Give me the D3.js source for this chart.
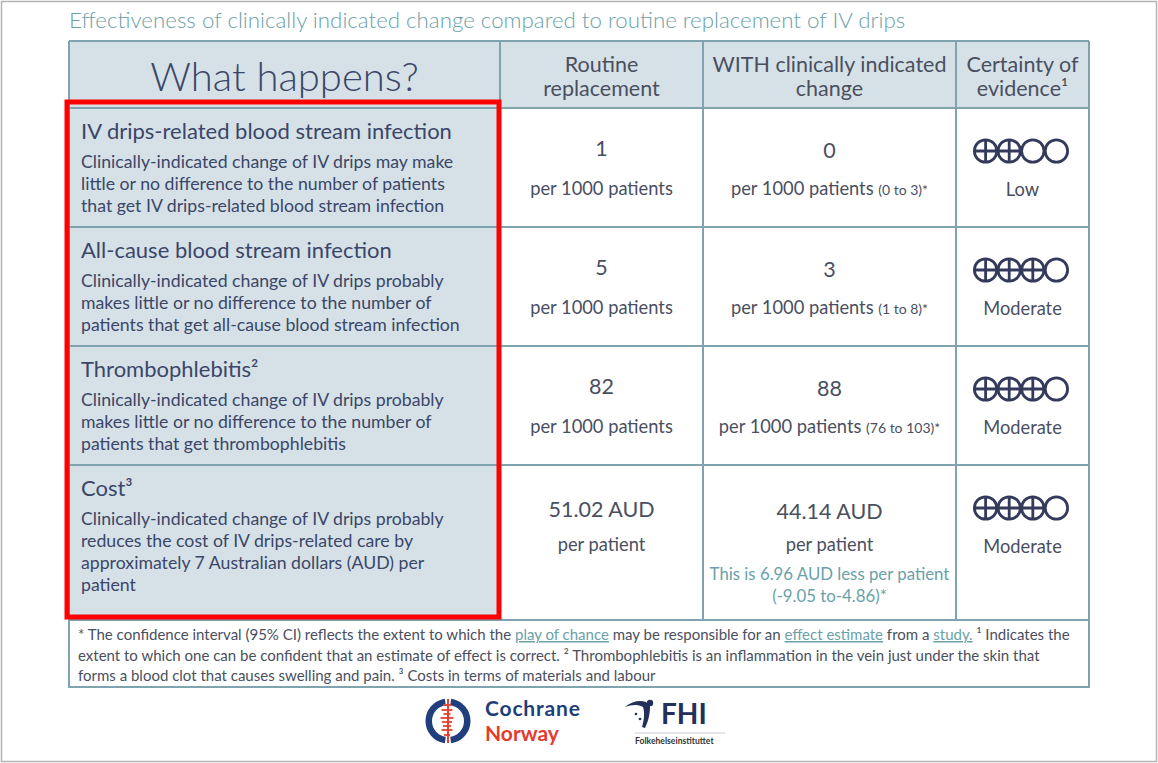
<!DOCTYPE html>
<html>
<head>
<meta charset="utf-8">
<script src="https://cdn.jsdelivr.net/npm/d3@7"></script>
<style>
  body { margin: 0; background: #fff; }
  text { font-family: Lato, "Open Sans", sans-serif; }
</style>
</head>
<body>
<div class="canvas"></div>
<script>
// data
const title = "Effectiveness of clinically indicated change compared to routine replacement of IV drips";
const headers = [["What happens?"], ["Routine", "replacement"], ["WITH clinically indicated", "change"], ["Certainty of", "evidence¹"]];
const outcomes = ["IV drips-related blood stream infection", "All-cause blood stream infection", "Thrombophlebitis²", "Cost³"];
const descriptions = [
  ["Clinically-indicated change of IV drips may make", "little or no difference to the number of patients", "that get IV drips-related blood stream infection"],
  ["Clinically-indicated change of IV drips probably", "makes little or no difference to the number of", "patients that get all-cause blood stream infection"],
  ["Clinically-indicated change of IV drips probably", "makes little or no difference to the number of", "patients that get thrombophlebitis"],
  ["Clinically-indicated change of IV drips probably", "reduces the cost of IV drips-related care by", "approximately 7 Australian dollars (AUD) per", "patient"]
];
const routine = ["1", "5", "82", "51.02 AUD"];
const units = ["per 1000 patients", "per 1000 patients", "per 1000 patients", "per patient"];
const withChange = ["0", "3", "88", "44.14 AUD"];
const ranges = ["(0 to 3)*", "(1 to 8)*", "(76 to 103)*", ""];
const costNote = ["This is 6.96 AUD less per patient", "(-9.05 to-4.86)*"];
const certainty = [2, 3, 3, 3];
const certaintyLabels = ["Low", "Moderate", "Moderate", "Moderate"];
const footnotes = [
  [["* The confidence interval (95% CI) reflects the extent to which the ", 0], ["play of chance", 1], [" may be responsible for an ", 0], ["effect estimate", 1], [" from a ", 0], ["study.", 1], [" ¹ Indicates the", 0]],
  [["extent to which one can be confident that an estimate of effect is correct. ² Thrombophlebitis is an inflammation in the vein just under the skin that", 0]],
  [["forms a blood clot that causes swelling and pain. ³ Costs in terms of materials and labour", 0]]
];

// layout
const W = 1158, H = 763;
const colEdges = [69, 500, 703, 956, 1089];
const headTop = 41, headH = 67;
const rowHeights = [119, 119, 119, 155];
const footH = 67;

const navy = "#3b4668", slate = "#4a4f60", teal = "#6aa1aa", border = "#7fa3af", fill = "#d5e1e7";

const rowTops = [headTop + headH, ...d3.cumsum(rowHeights).map(c => headTop + headH + c)];
const tableBottom = rowTops[rowTops.length - 1];

const colX = d3.scaleOrdinal().domain(d3.range(4)).range(colEdges.slice(0, 4));
const colC = d3.scaleOrdinal().domain(d3.range(4)).range(d3.range(4).map(i => (colEdges[i] + colEdges[i + 1]) / 2));
const rowY = d3.scaleOrdinal().domain(d3.range(4)).range(rowTops.slice(0, 4));

const svg = d3.select(".canvas").append("svg").attr("width", W).attr("height", H);

svg.append("rect").attr("x", 1.5).attr("y", 1.5).attr("width", W - 3).attr("height", H - 3)
  .attr("fill", "#fff").attr("stroke", "#b4b4b4").attr("stroke-width", 1.5);

const txt = (g, x, y, str, size, color, anchor = "start", weight = 400) =>
  g.append("text")
    .attr("x", x).attr("y", y)
    .attr("text-anchor", anchor)
    .attr("font-size", size)
    .attr("font-weight", weight)
    .attr("fill", color)
    .text(str);

// title
txt(svg, 69, 28, title, 22.3, "#6b9fa9", "start", 300);

// cells
const cells = svg.append("g");
cells.append("rect").attr("x", colEdges[0]).attr("y", headTop)
  .attr("width", colEdges[4] - colEdges[0]).attr("height", headH).attr("fill", fill);
cells.selectAll("rect.left").data(outcomes).join("rect").attr("class", "left")
  .attr("x", colEdges[0]).attr("y", (d, i) => rowY(i))
  .attr("width", colEdges[1] - colEdges[0]).attr("height", (d, i) => rowHeights[i]).attr("fill", fill);

// grid lines
const grid = svg.append("g").attr("stroke", border).attr("stroke-width", 2).attr("fill", "none");
grid.selectAll("line.h").data([headTop, ...rowTops]).join("line").attr("class", "h")
  .attr("x1", colEdges[0]).attr("x2", colEdges[4]).attr("y1", d => d).attr("y2", d => d);
grid.selectAll("line.v").data(colEdges).join("line").attr("class", "v")
  .attr("x1", d => d).attr("x2", d => d).attr("y1", headTop).attr("y2", tableBottom);
grid.append("rect").attr("x", colEdges[0]).attr("y", tableBottom)
  .attr("width", colEdges[4] - colEdges[0]).attr("height", footH);

// header
const head = svg.append("g");
txt(head, colC(0), 91, headers[0][0], 40, navy, "middle", 300);
headers.slice(1).forEach((lines, j) => {
  lines.forEach((l, k) => txt(head, colC(j + 1), 72 + k * 24, l, 21.5, slate, "middle"));
});

// rows
outcomes.forEach((o, i) => {
  const top = rowY(i);
  const g = svg.append("g");
  txt(g, colX(0) + 12, top + 31, o, 22, navy);
  descriptions[i].forEach((l, k) => txt(g, colX(0) + 12, top + 60 + k * 22, l, 17.7, navy));

  const big = i === 3 ? 52 : 48;
  txt(g, colC(1), top + big, routine[i], 21.5, slate, "middle");
  txt(g, colC(1), top + (i === 3 ? 86 : 87), units[i], 18.3, slate, "middle");

  txt(g, colC(2), top + big + 2, withChange[i], 21.5, slate, "middle");
  const u = txt(g, colC(2), top + (i === 3 ? 86 : 87), units[i], 18.3, slate, "middle");
  if (ranges[i]) {
    u.text(null);
    u.append("tspan").text(units[i] + " ");
    u.append("tspan").attr("font-size", 14).text(ranges[i]);
  }
  if (i === 3) {
    costNote.forEach((l, k) => txt(g, colC(2), top + 115 + k * 22, l, 16.8, teal, "middle"));
  }

  // certainty circles
  const r = 11.2, step = 23.6;
  const cg = g.append("g").attr("transform", `translate(${colC(3) - 1.5 * step - 1.5},${top + 43})`);
  const sym = cg.selectAll("g").data(d3.range(4)).join("g")
    .attr("transform", d => `translate(${d * step},0)`);
  sym.append("circle").attr("r", r).attr("fill", "#fff").attr("stroke", "#333a5c").attr("stroke-width", 2.8);
  sym.filter(d => d < certainty[i]).append("path")
    .attr("d", `M${-r},0H${r}M0,${-r}V${r}`).attr("stroke", "#333a5c").attr("stroke-width", 2.8);
  txt(g, colC(3), top + 88, certaintyLabels[i], 18.3, slate, "middle");
});

// red highlight
svg.append("rect").attr("x", 67).attr("y", 102).attr("width", 432).attr("height", 515)
  .attr("fill", "none").attr("stroke", "#ff0000").attr("stroke-width", 5);

// footnotes
const fn = svg.append("g");
footnotes.forEach((parts, k) => {
  const t = txt(fn, 78, tableBottom + 20 + k * 20.5, "", 15, "#4a4f5e");
  parts.forEach(([s, link]) => {
    const ts = t.append("tspan").text(s);
    if (link) ts.attr("fill", teal).attr("text-decoration", "underline");
  });
});

// logos
const logo = svg.append("g");
const ring = d3.arc().innerRadius(16).outerRadius(22.5);
[[-Math.PI + 0.14, -0.14], [0.14, Math.PI - 0.14]].forEach(([a0, a1]) => {
  logo.append("path").attr("transform", "translate(448,721)").attr("fill", "#203f7c")
    .attr("d", ring({ startAngle: a0, endAngle: a1 }));
});
logo.append("line").attr("x1", 448).attr("x2", 448).attr("y1", 699).attr("y2", 743)
  .attr("stroke", "#e8412f").attr("stroke-width", 2);
const bars = [[705, 6], [710, 9], [714, 5], [718, 11], [722, 8], [726, 6], [730, 9], [735, 4]];
logo.selectAll("line.bar").data(bars).join("line").attr("class", "bar")
  .attr("x1", d => 448 - d[1] / 2 - 2).attr("x2", d => 448 + d[1] / 2)
  .attr("y1", d => d[0]).attr("y2", d => d[0]).attr("stroke", "#e8412f").attr("stroke-width", 1.8);
txt(logo, 485, 716, "Cochrane", 21, "#1f3f7a", "start", 700).attr("textLength", 95);
txt(logo, 485, 741, "Norway", 21, "#e53b2e", "start", 700);

logo.append("path").attr("fill", "#23305a")
  .attr("d", "M625,707 C632,701 640,700 646,702 L650,706 C650,715 648,722 645,728 L642,727 C644,720 645,713 643,707 C637,704 631,705 625,707 Z");
logo.append("circle").attr("cx", 650).attr("cy", 703).attr("r", 3.2).attr("fill", "#23305a");
logo.append("circle").attr("cx", 636).attr("cy", 714).attr("r", 1.3).attr("fill", "#23305a");
logo.append("circle").attr("cx", 640).attr("cy", 719).attr("r", 1.3).attr("fill", "#23305a");
txt(logo, 661, 724, "FHI", 28, "#23305a", "start", 700);
logo.append("line").attr("x1", 635).attr("x2", 725).attr("y1", 733).attr("y2", 733).attr("stroke", "#c8ccd6").attr("stroke-width", 1);
txt(logo, 635, 744, "Folkehelseinstituttet", 8.6, "#333", "start", 700);
</script>
</body>
</html>
